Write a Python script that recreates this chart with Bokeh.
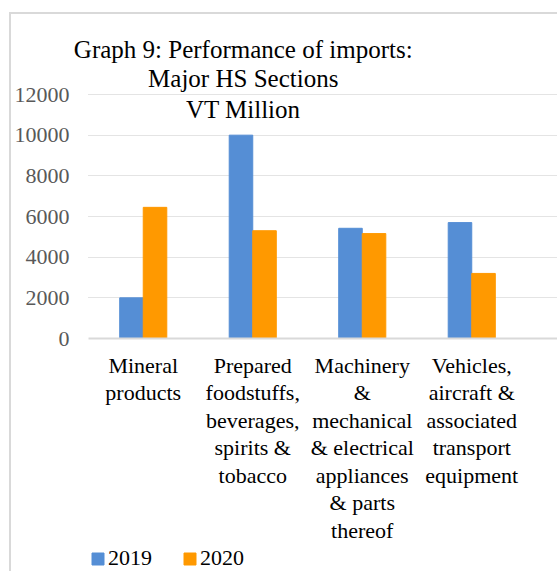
from bokeh.plotting import figure
from bokeh.layouts import column
from bokeh.models import ColumnDataSource, Range1d, FixedTicker, Legend, LegendItem, Label
from bokeh.transform import dodge
from bokeh.embed import file_html
from bokeh.resources import INLINE

# ---- data ----
categories = [
    "Mineral\nproducts",
    "Prepared\nfoodstuffs,\nbeverages,\nspirits &\ntobacco",
    "Machinery\n&\nmechanical\n& electrical\nappliances\n& parts\nthereof",
    "Vehicles,\naircraft &\nassociated\ntransport\nequipment",
]
series_names = ["2019", "2020"]
values_2019 = [2000, 10000, 5420, 5700]
values_2020 = [6450, 5300, 5160, 3200]
y_ticks = [0, 2000, 4000, 6000, 8000, 10000, 12000]
title_lines = ["Graph 9: Performance of imports:", "Major HS Sections", "VT Million"]

# ---- styles / layout ----
FONT = "Liberation Serif"
C2019 = "#558ED5"
C2020 = "#FF9900"
pos = list(range(len(categories)))
source = ColumnDataSource(dict(pos=pos, v2019=values_2019, v2020=values_2020))

# frame extends above the top tick and left of the plot area so the
# overlaid title is not clipped; grid and axis line are bounded instead
y_top = max(y_ticks)
y_end = y_top * 318 / 244
x_start, x_plot_start, x_end = -0.6461, -0.5, 3.783

p = figure(width=546, height=531,
           x_range=Range1d(x_start, x_end), y_range=Range1d(0, y_end),
           output_backend="svg", toolbar_location=None,
           min_border_left=61, min_border_top=6, min_border_bottom=207,
           min_border_right=0)

bw = 0.215
r1 = p.vbar(x=dodge("pos", -bw / 2, range=p.x_range), top="v2019", width=bw,
            source=source, fill_color=C2019, line_color=C2019)
r2 = p.vbar(x=dodge("pos", bw / 2, range=p.x_range), top="v2020", width=bw,
            source=source, fill_color=C2020, line_color=C2020)

p.outline_line_color = None
p.background_fill_color = "white"
p.border_fill_color = "white"
p.xgrid.visible = False
yg = p.ygrid[0]
yg.grid_line_color = "#c8c8c8"
yg.grid_line_dash = "1 1"
yg.grid_line_width = 1
if "cross_bounds" in yg.properties():
    yg.cross_bounds = (x_plot_start, x_end)

ya = p.yaxis[0]
ya.ticker = FixedTicker(ticks=y_ticks)
ya.axis_line_color = None
ya.major_tick_line_color = None
ya.minor_tick_line_color = None
ya.major_tick_out = 0
ya.major_label_standoff = 3
ya.major_label_text_font = FONT
ya.major_label_text_font_size = "22px"
ya.major_label_text_color = "#595959"

xa = p.xaxis[0]
xa.ticker = FixedTicker(ticks=pos)
xa.bounds = (x_plot_start, x_end)
xa.major_label_overrides = {i: c for i, c in zip(pos, categories)}
xa.axis_line_color = "#d9d9d9"
xa.axis_line_width = 2
xa.major_tick_line_color = None
xa.minor_tick_line_color = None
xa.major_tick_out = 0
xa.major_label_standoff = 14
xa.major_label_text_font = FONT
xa.major_label_text_font_size = "22px"
xa.major_label_text_color = "black"
xa.major_label_text_line_height = 1.1

title_y = [14213, 12786, 11262]
for line, ty in zip(title_lines, title_y):
    p.add_layout(Label(x=0.913, y=ty, text=line, text_align="center",
                       text_baseline="alphabetic", text_font=FONT,
                       text_font_size="25px", text_color="black"))

# legend strip underneath: its renderers hold one zero-height bar placed
# outside the strip's view, so only the legend itself shows
proxy = ColumnDataSource(dict(x=[10], top=[0]))
pl = figure(width=546, height=26, x_range=Range1d(0, 1), y_range=Range1d(0, 1),
            output_backend="svg", toolbar_location=None,
            x_axis_location=None, y_axis_location=None,
            min_border_left=61, min_border_right=0, min_border_top=0,
            min_border_bottom=0)
pl.outline_line_color = None
pl.xgrid.visible = False
pl.ygrid.visible = False
l1 = pl.vbar(x="x", top="top", width=0.1, source=proxy,
             fill_color=C2019, line_color=C2019)
l2 = pl.vbar(x="x", top="top", width=0.1, source=proxy,
             fill_color=C2020, line_color=C2020)
legend = Legend(items=[LegendItem(label=series_names[0], renderers=[l1]),
                       LegendItem(label=series_names[1], renderers=[l2])],
                orientation="horizontal", location=(18, 0),
                glyph_width=15, glyph_height=15, label_standoff=3, spacing=30,
                padding=0, margin=0, label_text_font=FONT,
                label_text_font_size="22px", label_text_color="black",
                background_fill_alpha=0, border_line_color=None)
pl.add_layout(legend)

layout = column(p, pl, spacing=0)
layout.styles = {"margin-left": "9px", "margin-top": "12px",
                 "border-left": "2px solid #d9d9d9", "border-top": "2px solid #d9d9d9"}

open("out.html", "w").write(file_html(layout, INLINE))
